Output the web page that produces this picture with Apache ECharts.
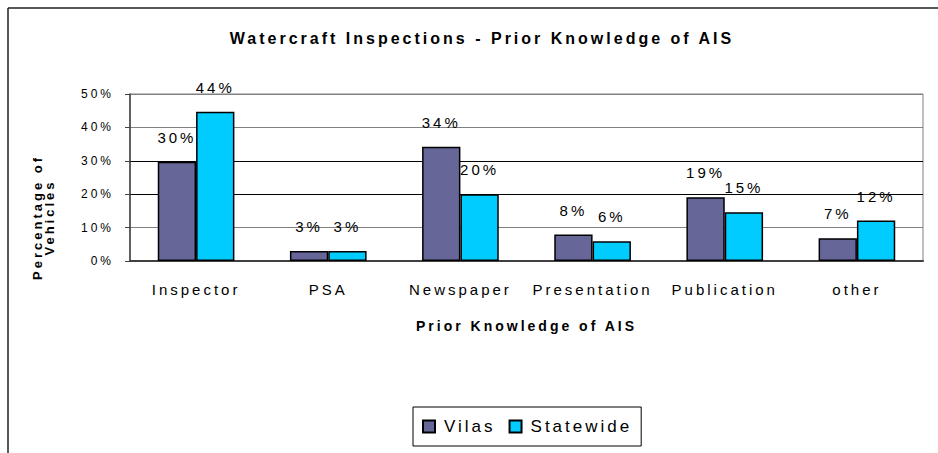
<!DOCTYPE html>
<html>
<head>
    <meta charset="utf-8">
    <title>Watercraft Inspections</title>
    <script src="https://cdn.jsdelivr.net/npm/echarts@6/dist/echarts.min.js"></script>
    <style type="text/css">
        html, body { margin: 0; padding: 0; background: #fff; }
        #main { width: 938px; height: 453px; }
        /* the old chart draws its text widely spaced */
        #main svg text { letter-spacing: 3px; }
    </style>
</head>
<body>
<div id="main"></div>
<script>
    var categories = ['Inspector', 'PSA', 'Newspaper', 'Presentation', 'Publication', 'other'];
    var vilas = [29.7, 3.0, 34.2, 7.9, 19.1, 6.8];
    var statewide = [44.7, 3.0, 20.0, 5.9, 14.6, 12.1];
    var vilasLabels = ['30%', '3%', '34%', '8%', '19%', '7%'];
    var statewideLabels = ['44%', '3%', '20%', '6%', '15%', '12%'];
    var yTicks = [0, 10, 20, 30, 40, 50];

    var font = "'Liberation Sans Narrow', 'Liberation Sans', Arial, sans-serif";

    var chart = echarts.init(document.getElementById('main'), null, {renderer: 'svg'});

    function barLabel(labels) {
        return {
            show: true,
            position: 'top',
            distance: 17,
            color: '#000',
            fontFamily: font,
            fontSize: 15,
            formatter: function (p) { return labels[p.dataIndex]; }
        };
    }

    var option = {
        animation: false,
        backgroundColor: '#fff',
        textStyle: {fontFamily: font},
        title: {
            text: 'Watercraft Inspections - Prior Knowledge of AIS',
            left: 477,
            top: 25,
            textAlign: 'center',
            textStyle: {fontFamily: font, fontSize: 16, fontWeight: 'bold', color: '#000'}
        },
        legend: {
            data: ['Vilas', 'Statewide'],
            left: 413,
            top: 407,
            icon: 'rect',
            itemWidth: 12,
            itemHeight: 12,
            itemGap: 28,
            padding: [11, 36, 11, 9],
            borderColor: '#000',
            borderWidth: 1,
            textStyle: {fontFamily: font, fontSize: 17, color: '#000', padding: [0, 0, 0, 4]}
        },
        grid: {
            left: 130,
            right: 15,
            top: 94,
            bottom: 192,
            show: true,
            borderColor: '#808080',
            borderWidth: 1
        },
        xAxis: {
            type: 'category',
            data: categories,
            name: 'Prior Knowledge of AIS',
            nameLocation: 'middle',
            nameGap: 58,
            nameTextStyle: {fontFamily: font, fontSize: 14, fontWeight: 'bold', color: '#000'},
            axisLine: {lineStyle: {color: '#404040', width: 2}},
            axisTick: {length: 6, lineStyle: {color: '#404040'}},
            axisLabel: {fontFamily: font, fontSize: 15, color: '#000', margin: 21}
        },
        yAxis: {
            type: 'value',
            min: 0,
            max: 50,
            interval: 10,
            name: 'Percentage of\nVehicles',
            nameLocation: 'middle',
            nameGap: 75,
            nameRotate: 90,
            nameTextStyle: {fontFamily: font, fontSize: 13, fontWeight: 'bold', color: '#000',
                lineHeight: 12, align: 'center', padding: [0, 80, 0, 0]},
            axisLine: {show: true, lineStyle: {color: '#404040', width: 1.5}},
            axisTick: {show: true, length: 5, lineStyle: {color: '#404040'}},
            axisLabel: {
                fontFamily: font, fontSize: 12, color: '#000', margin: 16,
                formatter: function (v) { return yTicks.indexOf(v) >= 0 ? v + '%' : ''; }
            },
            splitLine: {
                show: true,
                lineStyle: {color: ['#808080', '#808080', '#000', '#000', '#808080', '#808080'], width: 1}
            }
        },
        series: [
            {
                name: 'Vilas',
                type: 'bar',
                data: vilas,
                barGap: '0%',
                barCategoryGap: '42%',
                itemStyle: {color: '#666699', borderColor: '#000', borderWidth: 1.5},
                label: barLabel(vilasLabels)
            },
            {
                name: 'Statewide',
                type: 'bar',
                data: statewide,
                itemStyle: {color: '#00CCFF', borderColor: '#000', borderWidth: 1.5},
                label: barLabel(statewideLabels)
            }
        ],
        graphic: [
            {type: 'line', shape: {x1: 8, y1: 8, x2: 938, y2: 8}, style: {stroke: '#202020', lineWidth: 1.5}},
            {type: 'line', shape: {x1: 8, y1: 8, x2: 8, y2: 453}, style: {stroke: '#202020', lineWidth: 1.5}}
        ]
    };
    chart.setOption(option);
</script>
</body>
</html>
